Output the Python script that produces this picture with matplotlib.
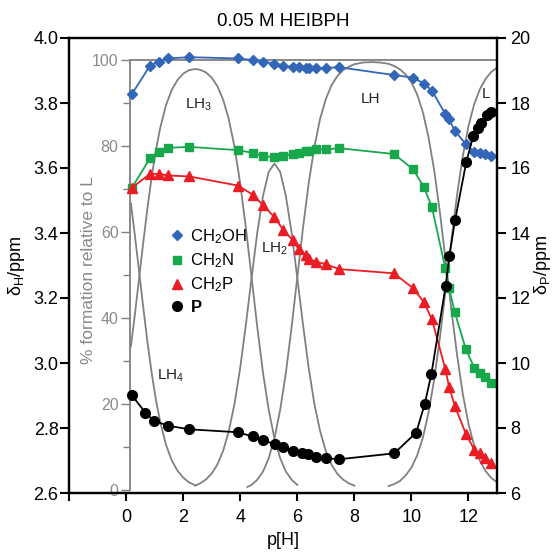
import matplotlib
matplotlib.use('Agg')
import matplotlib.pyplot as plt
from matplotlib.lines import Line2D
from matplotlib.ticker import MultipleLocator, FixedLocator

plt.rcParams['font.family'] = ['Liberation Sans', 'DejaVu Sans']
plt.rcParams['mathtext.default'] = 'regular'

# ---------------- data ----------------
ph_h = [0.20, 0.84, 1.14, 1.48, 2.22, 3.92, 4.46, 4.80, 5.20, 5.51, 5.84, 6.05, 6.30,
        6.42, 6.65, 7.00, 7.47, 9.39, 10.06, 10.44, 10.72, 11.19, 11.32, 11.52, 11.91,
        12.21, 12.39, 12.57, 12.78]
ch2oh = [3.827, 3.915, 3.927, 3.937, 3.941, 3.937, 3.932, 3.927, 3.921, 3.915, 3.910,
         3.910, 3.909, 3.907, 3.907, 3.908, 3.910, 3.886, 3.878, 3.860, 3.838, 3.766,
         3.750, 3.715, 3.673, 3.649, 3.645, 3.642, 3.636]
ch2n = [3.539, 3.630, 3.648, 3.662, 3.665, 3.655, 3.646, 3.637, 3.633, 3.637, 3.643,
        3.645, 3.652, 3.653, 3.657, 3.657, 3.661, 3.643, 3.596, 3.541, 3.479, 3.291,
        3.230, 3.156, 3.042, 2.984, 2.968, 2.958, 2.938]
ch2p = [3.539, 3.582, 3.582, 3.577, 3.574, 3.546, 3.517, 3.485, 3.449, 3.409, 3.378,
        3.350, 3.332, 3.319, 3.312, 3.304, 3.289, 3.276, 3.230, 3.187, 3.134, 2.981,
        2.927, 2.868, 2.782, 2.732, 2.722, 2.707, 2.691]

ph_p = [0.20, 0.68, 0.98, 1.48, 2.21, 3.91, 4.44, 4.80, 5.21, 5.51, 5.85, 6.16, 6.36,
        6.64, 6.99, 7.48, 9.40, 10.17, 10.47, 10.70, 11.20, 11.33, 11.53, 11.92, 12.17,
        12.33, 12.43, 12.65, 12.78]
p_shift = [9.01, 8.47, 8.22, 8.07, 7.96, 7.87, 7.74, 7.63, 7.50, 7.41, 7.30, 7.22, 7.19,
           7.10, 7.07, 7.04, 7.22, 7.86, 8.75, 9.66, 12.37, 13.29, 14.39, 16.17, 17.00,
           17.23, 17.40, 17.63, 17.72]

# species distribution (% formation relative to L)
ph_lh4 = [0.17, 0.3, 0.45, 0.6, 0.75, 0.9, 1.05, 1.2, 1.4, 1.6, 1.8, 2.0, 2.2, 2.42]
lh4 = [66.6, 59.7, 51.2, 42.6, 34.4, 27.1, 20.8, 15.7, 10.5, 6.9, 4.5, 2.9, 1.8, 1.1]

ph_lh3 = [0.17, 0.3, 0.45, 0.6, 0.75, 0.9, 1.05, 1.2, 1.4, 1.6, 1.8, 2.0, 2.2, 2.42, 2.6,
          2.8, 3.0, 3.2, 3.4, 3.6, 3.8, 4.0, 4.2, 4.4, 4.6, 4.8, 5.0, 5.2, 5.4, 5.6, 5.8, 6.0]
lh3 = [33.4, 40.3, 48.9, 57.4, 65.6, 72.9, 79.2, 84.3, 89.5, 93.0, 95.3, 96.8, 97.6, 97.9,
       97.7, 97.1, 95.9, 93.9, 90.8, 86.2, 79.8, 71.3, 60.9, 49.4, 37.8, 27.2, 18.6, 12.0,
       7.4, 4.3, 2.4, 1.2]

ph_lh2 = [2.42, 2.6, 2.8, 3.0, 3.2, 3.4, 3.6, 3.8, 4.0, 4.2, 4.4, 4.6, 4.8, 5.0, 5.2, 5.4,
          5.6, 5.8, 6.0, 6.2, 6.4, 6.6, 6.8, 7.0, 7.2, 7.4, 7.6, 7.8, 8.0]
lh2 = [1.0, 1.55, 2.44, 3.82, 5.92, 9.08, 13.7, 20.0, 28.4, 38.5, 49.4, 59.9, 68.4, 74.0,
       75.9, 74.0, 68.4, 59.9, 49.4, 38.5, 28.4, 20.0, 13.7, 9.1, 5.9, 3.8, 2.45, 1.56, 1.0]

ph_lh = [4.25, 4.4, 4.6, 4.8, 5.0, 5.2, 5.4, 5.6, 5.8, 6.0, 6.2, 6.4, 6.6, 6.8, 7.0, 7.2,
         7.4, 7.6, 7.8, 8.0, 8.3, 8.6, 8.9, 9.2, 9.4, 9.6, 9.8, 10.0, 10.2, 10.4, 10.6,
         10.8, 11.0, 11.2, 11.4, 11.6, 11.8, 12.0, 12.2, 12.4, 12.6, 12.8, 13.0]
lh = [0.7, 1.2, 2.4, 4.3, 7.4, 12.0, 18.6, 27.2, 37.8, 49.4, 60.9, 71.3, 79.8, 86.3, 90.9,
      94.1, 96.2, 97.6, 98.4, 99.0, 99.4, 99.5, 99.4, 99.1, 98.6, 97.8, 96.6, 94.8, 92.0,
      87.9, 82.0, 74.3, 64.5, 53.4, 42.0, 31.4, 22.4, 15.4, 10.3, 6.8, 4.4, 2.8, 1.8]

ph_l = [9.2, 9.4, 9.6, 9.8, 10.0, 10.2, 10.4, 10.6, 10.8, 11.0, 11.2, 11.4, 11.6, 11.8,
        12.0, 12.2, 12.4, 12.6, 12.8, 13.0]
l_free = [0.9, 1.4, 2.1, 3.4, 5.2, 8.0, 12.1, 18.0, 25.7, 35.5, 46.6, 58.0, 68.6, 77.6,
          84.6, 89.7, 93.2, 95.6, 97.2, 98.2]

species_labels = ['LH$_4$', 'LH$_3$', 'LH$_2$', 'LH', 'L']
species_label_pos = [(1.57, 26.5), (2.53, 89.5), (5.19, 56.0), (8.55, 91.0), (12.62, 92.0)]

x_ticks = [-2, 0, 2, 4, 6, 8, 10, 12]
x_ticklabels = ['', '0', '2', '4', '6', '8', '10', '12']
yl_ticks = [2.6, 2.8, 3.0, 3.2, 3.4, 3.6, 3.8, 4.0]
yr_ticks = [6, 8, 10, 12, 14, 16, 18, 20]

# ---------------- styles ----------------
BLUE = '#3266b8'
GREEN = '#17a84b'
RED = '#ec1c24'
GREY = '#808080'
GREY_TXT = '#8a8a8a'
inner_spine_x = 0.15

fig = plt.figure(figsize=(5.52, 5.56), dpi=100)
pos = [69 / 552, 1 - 493 / 556, 428 / 552, 455 / 556]
ax = fig.add_axes(pos)
ax3 = fig.add_axes(pos, sharex=ax)
ax2 = ax.twinx()
ax3.set_zorder(0)
ax.set_zorder(1)
ax2.set_zorder(2)
ax.patch.set_visible(False)
ax2.patch.set_visible(False)

# ----- inner grey axis (species) -----
ax3.set_ylim(-0.7, 105.1)
for sp in ['top', 'right', 'bottom']:
    ax3.spines[sp].set_visible(False)
ax3.spines['left'].set_position(('data', inner_spine_x))
ax3.spines['left'].set_bounds(0, 100)
ax3.spines['left'].set_color(GREY)
ax3.spines['left'].set_linewidth(1.3)
ax3.yaxis.set_major_locator(MultipleLocator(20))
ax3.yaxis.set_minor_locator(FixedLocator([10, 30, 50, 70, 90]))
ax3.tick_params(axis='y', which='major', direction='out', length=6.5, width=1.0,
                color=GREY, labelcolor=GREY_TXT, labelsize=11.5, pad=2)
ax3.tick_params(axis='y', which='minor', direction='out', length=5, width=1.0, color=GREY)
ax3.tick_params(axis='x', which='both', bottom=False, labelbottom=False)
ax3.set_ylabel('% formation relative to L', color=GREY_TXT, fontsize=12.5)
ax3.yaxis.set_label_coords((96 - 69) / 428, (493 - 270) / 455)
ax3.hlines(100, inner_spine_x, 13, color=GREY, lw=1.3)

for xs, ys in [(ph_lh4, lh4), (ph_lh3, lh3), (ph_lh2, lh2), (ph_lh, lh), (ph_l, l_free)]:
    ax3.plot(xs, ys, color=GREY, lw=1.3, solid_joinstyle='round')
for lab, (lx, ly) in zip(species_labels, species_label_pos):
    ax3.text(lx, ly, lab, ha='center', va='center', fontsize=11, color='#222222')

# ----- main axes -----
ax.set_xlim(-2, 13)
ax.set_ylim(2.6, 4.0)
ax.set_xticks(x_ticks)
ax.set_xticklabels(x_ticklabels)
ax.set_yticks(yl_ticks)
ax.set_yticklabels(['%.1f' % v for v in yl_ticks])
ax.tick_params(axis='y', direction='out', length=6.5, width=1.5, labelsize=13, pad=1)
ax.tick_params(axis='x', direction='out', length=5.5, width=1.5, labelsize=13, pad=6)
for sp in ax.spines.values():
    sp.set_linewidth(1.6)

ax.plot(ph_h, ch2oh, color=BLUE, lw=1.3, marker='D', ms=5.5, mec=BLUE, mfc=BLUE)
ax.plot(ph_h, ch2n, color=GREEN, lw=1.3, marker='s', ms=6, mec=GREEN, mfc=GREEN)
ax.plot(ph_h, ch2p, color=RED, lw=1.3, marker='^', ms=6.5, mec=RED, mfc=RED)

ax2.set_ylim(6, 20)
ax2.set_yticks(yr_ticks)
ax2.tick_params(axis='y', direction='out', length=6.5, width=1.5, labelsize=13, pad=3)
for sp in ax2.spines.values():
    sp.set_linewidth(1.6)
ax2.plot(ph_p, p_shift, color='black', lw=1.3, marker='o', ms=7)

ax.set_ylabel(r'$\delta_H$/ppm', fontsize=13)
ax.yaxis.set_label_coords((27 - 69) / 428, 0.5)
ax2.set_ylabel(r'$\delta_P$/ppm', fontsize=13)
ax2.yaxis.set_label_coords((532 - 69) / 428, 0.5)
ax.set_xlabel('p[H]', fontsize=13, labelpad=4)
ax.set_title('0.05 M HEIBPH', fontsize=13.5, pad=9)

handles = [Line2D([], [], ls='none', marker='D', ms=5.5, color=BLUE),
           Line2D([], [], ls='none', marker='s', ms=6, color=GREEN),
           Line2D([], [], ls='none', marker='^', ms=6.5, color=RED),
           Line2D([], [], ls='none', marker='o', ms=7, color='black')]
labels = ['CH$_2$OH', 'CH$_2$N', 'CH$_2$P', 'P']
leg = ax2.legend(handles, labels, loc='upper left', bbox_to_anchor=(0.233, 0.584),
                 frameon=False, fontsize=12, handlelength=1.0, handletextpad=0.3,
                 labelspacing=0.33, borderpad=0, borderaxespad=0)
leg.get_texts()[3].set_fontweight('bold')

fig.savefig('out.png', dpi=100)
